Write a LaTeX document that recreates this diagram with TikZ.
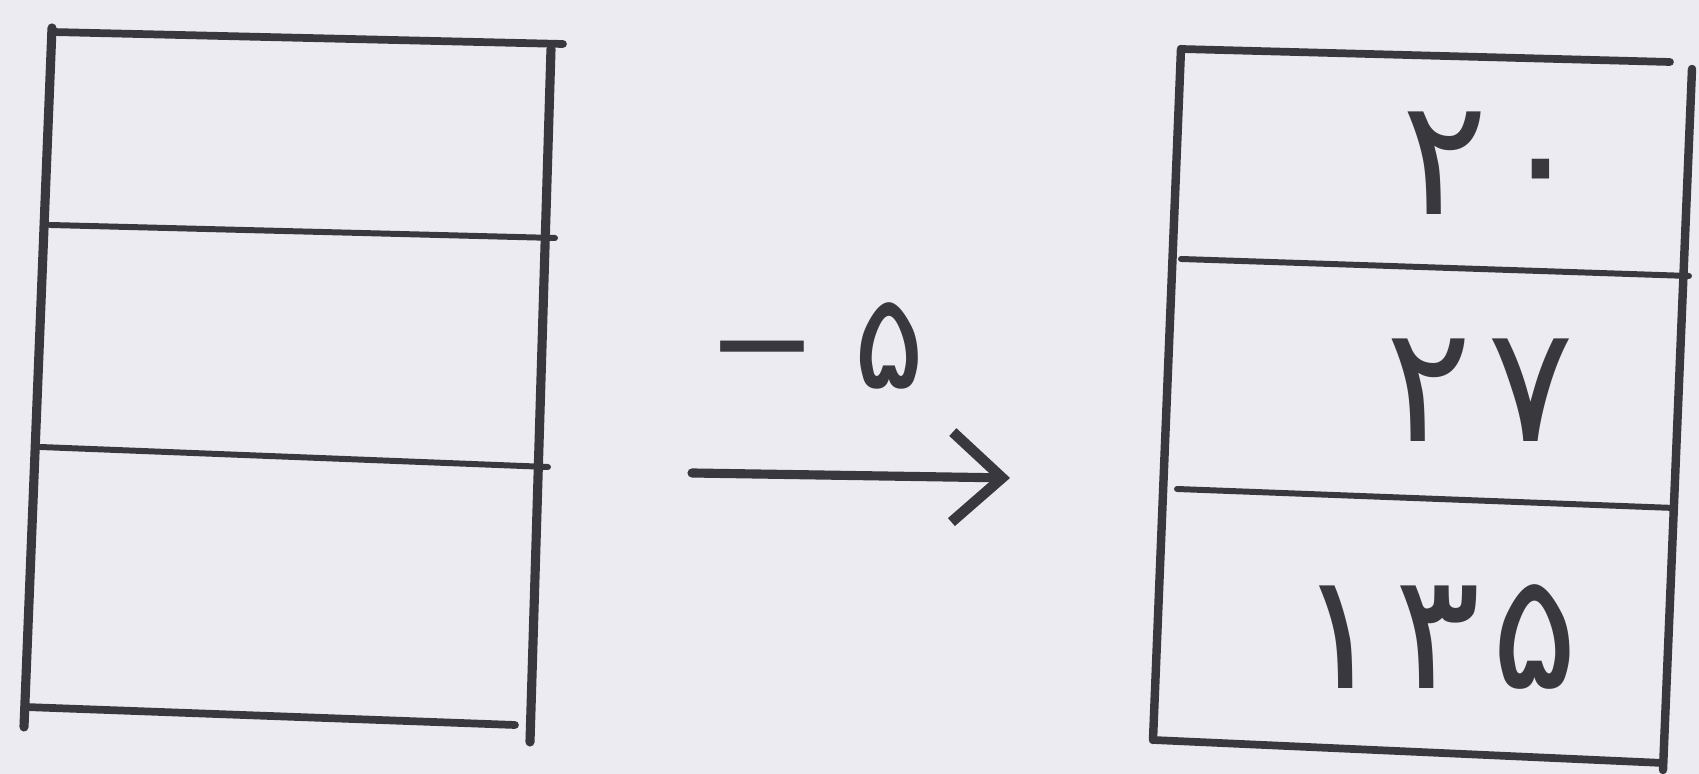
\documentclass[tikz,border=0pt]{standalone}
\usepackage{fontspec}
\usepackage{tikz}
\usetikzlibrary{arrows.meta,positioning,calc}
\newfontfamily\arabicfont[Script=Arabic]{DejaVu Sans}
\definecolor{pencil}{HTML}{38383D}
\definecolor{paper}{HTML}{ECEBF2}

\begin{document}
\begin{tikzpicture}[line cap=round, >={Straight Barb[length=5mm,width=9mm,line width=3pt]}]
    % Paper
    \fill[paper] (0,0) rectangle (16.99,7.74);
    \useasboundingbox (0,0) rectangle (16.99,7.74);

    % Left table (empty)
    \draw[pencil, line width=2.6pt] (0.52,7.46) -- (0.24,0.47);
    \draw[pencil, line width=2.6pt] (5.51,7.25) -- (5.30,0.32);
    \draw[pencil, line width=2.2pt] (0.52,7.42) -- (5.63,7.30);
    \draw[pencil, line width=1.7pt] (0.50,5.49) -- (5.55,5.36);
    \draw[pencil, line width=1.7pt] (0.40,3.27) -- (5.48,3.07);
    \draw[pencil, line width=2.2pt] (0.25,0.67) -- (5.15,0.49);

    % Right table
    \draw[pencil, line width=2.4pt] (11.81,7.25) -- (11.53,0.34);
    \draw[pencil, line width=2.4pt] (16.92,7.05) -- (16.63,0.04);
    \draw[pencil, line width=2.2pt] (11.81,7.25) -- (16.70,7.12);
    \draw[pencil, line width=1.7pt] (11.81,5.15) -- (16.89,4.98);
    \draw[pencil, line width=1.7pt] (11.77,2.85) -- (16.74,2.66);
    \draw[pencil, line width=2.2pt] (11.53,0.34) -- (16.63,0.11);

    % Values
    \node[text=pencil, font=\arabicfont\fontsize{46}{50}\selectfont] (v1) at (14.93,6.11) {۲\hspace{0.1cm}۰};
    \node[text=pencil, font=\arabicfont\fontsize{46}{50}\selectfont] (v2) at (14.80,3.84) {۲\hspace{0.15cm}۷};
    \node[text=pencil, font=\arabicfont\fontsize{46}{50}\selectfont] (v3) at (14.38,1.37) {۱\hspace{0.1cm}۳\hspace{0.1cm}۵};

    % Arrow
    \coordinate (from) at (6.92,3.01);
    \coordinate (to) at (10.10,2.96);
    \draw[->, pencil, line width=2.6pt] (from) -- node[above=0.7cm, xshift=-0.35cm, font=\arabicfont\fontsize{38}{42}\selectfont] (shift) {−\hspace{0.35cm}۵} (to);
  \end{tikzpicture}
\end{document}
